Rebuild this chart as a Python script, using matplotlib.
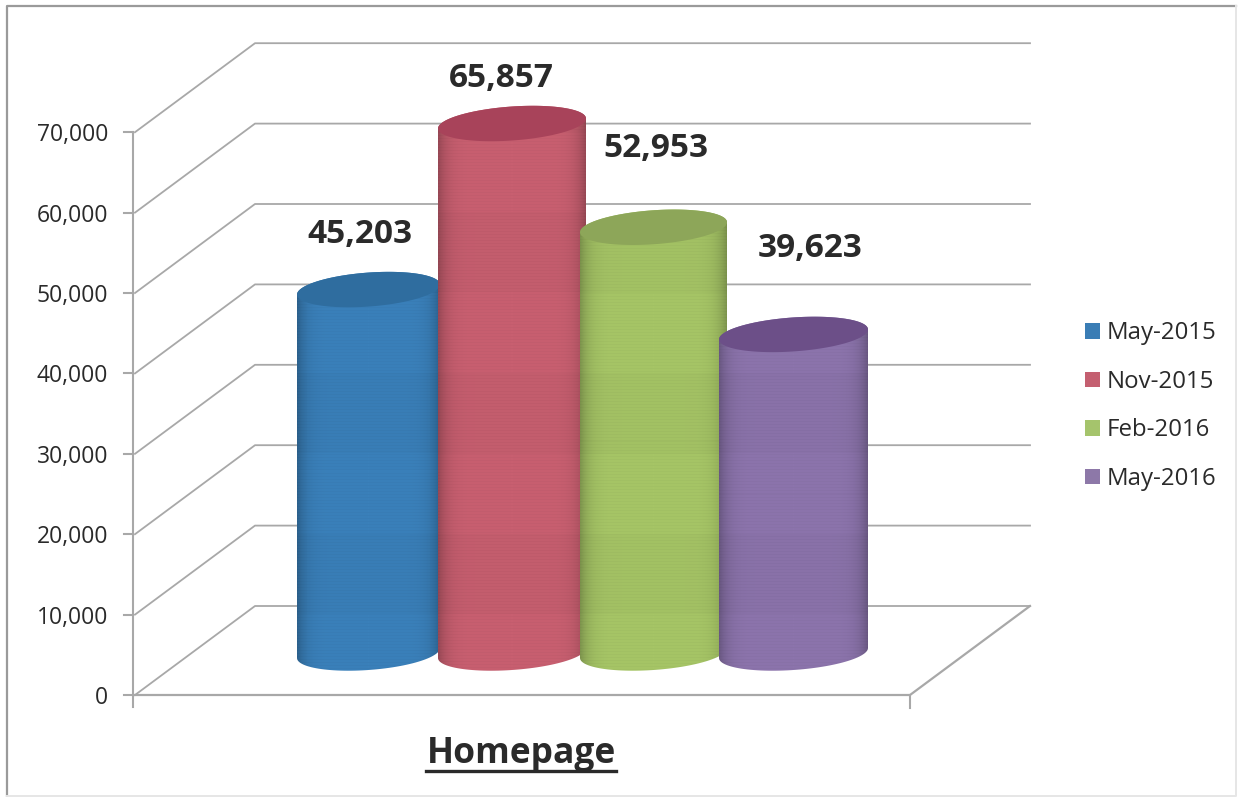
import numpy as np
import matplotlib
matplotlib.use('Agg')
import matplotlib.pyplot as plt
from matplotlib.patches import Patch, PathPatch
from matplotlib.path import Path

plt.rcParams['font.family'] = ['Open Sans', 'DejaVu Sans']

# data
periods = ['May-2015', 'Nov-2015', 'Feb-2016', 'May-2016']
values = [45203, 65857, 52953, 39623]
y_ticks = [0, 10000, 20000, 30000, 40000, 50000, 60000, 70000]
category = 'Homepage'

# colours
side_cols = ['#3a80ba', '#c85f70', '#a6c566', '#8c74ac']
top_cols = ['#2f6d9f', '#a8435a', '#8da659', '#6c4f88']
legend_cols = ['#3a7db5', '#c45f70', '#a5c46c', '#8d78a8']
grid_col = '#a8a8a8'
text_col = '#2a2a2a'

# layout, in picture pixels
W, H = 1238, 797
PX_PER_UNIT = 8.04 / 1000
Y0 = 695          # pixel row of value 0 on the front plane
X_FRONT, X_END = 135, 910
DEPTH_X, DEPTH_Y = 120, 89
BASE_ROW = 653    # cylinder base centre
bar_left = [297, 438, 580, 719]
bar_right = [440, 586, 727, 868]
label_xy = [(360, 234), (501, 78), (656, 148), (810, 248)]


def val(px):
    # pixel height -> chart units
    return px / PX_PER_UNIT


fig = plt.figure(figsize=(W / 100, H / 100), dpi=100)
ax = fig.add_axes([0, 0, 1, 1])
ax.axis('off')
ylim = ((Y0 - H) / PX_PER_UNIT, Y0 / PX_PER_UNIT)

# outer frame: top and left are strong, the other two nearly gone in the scan
ax.plot([7, 7, 1236], [val(Y0 - 796), val(Y0 - 6), val(Y0 - 6)],
        color='#9a9a9a', lw=1.6, zorder=1)
ax.plot([1236, 1236, 7], [val(Y0 - 6), val(Y0 - 796), val(Y0 - 796)],
        color='#e6e6e6', lw=1.4, zorder=1)

# walls
dy = val(DEPTH_Y)
for t in y_ticks:
    ax.plot([X_FRONT, X_FRONT + DEPTH_X, X_END + DEPTH_X],
            [t, t + dy, t + dy], color=grid_col, lw=1.3, zorder=1)
    ax.plot([124, 133], [t, t], color=grid_col, lw=1.5, zorder=1)
    ax.text(108, t - val(3), f'{t:,}', ha='right', va='center', fontsize=16.5, color=text_col)
ax.plot([X_FRONT, X_END, X_END + DEPTH_X], [0, 0, dy], color=grid_col, lw=1.6, zorder=1)
ax.plot([133, 133], [val(Y0 - 707), y_ticks[-1]], color=grid_col, lw=1.5, zorder=1)
ax.plot([X_END, X_END], [0, val(Y0 - 708)], color=grid_col, lw=1.5, zorder=1)

# cylinders
base = val(Y0 - BASE_ROW)
b_half = val(17)
tilt = val(5)
t_arc = np.linspace(0, np.pi, 60)
shade_x = np.linspace(-1, 1, 150)
shade = 1.0 - 0.24 * np.abs(shade_x) ** 8
band_step = val(80.4)

for i, v in enumerate(values):
    z = 3 + i
    x0, x1 = bar_left[i], bar_right[i]
    xc, a = (x0 + x1) / 2, (x1 - x0) / 2
    top = v + base

    # outline: lower edge of the base ellipse, then straight up and over
    low_x = xc - a * np.cos(t_arc)
    low_y = base - b_half * np.sin(t_arc) - tilt * np.cos(t_arc)
    up_x = xc + a * np.cos(t_arc)
    up_y = top + b_half * np.sin(t_arc) + tilt * np.cos(t_arc)
    pts = np.column_stack([np.r_[low_x, up_x], np.r_[low_y, up_y]])
    body = PathPatch(Path(np.vstack([pts, pts[0]])), fc='none', ec='none', zorder=z)
    ax.add_patch(body)

    # side shading with the faint bands and scan lines of the source
    n_rows = int((v + val(60)) * PX_PER_UNIT)
    rows = np.linspace(top + val(30), base - val(30), n_rows)
    band = 1 - 0.02 * (np.floor(rows / band_step) % 2)
    band = band - 0.025 * (np.arange(n_rows) % 3 == 0)
    rgb = np.array(matplotlib.colors.to_rgb(side_cols[i]))
    img = np.clip(band[:, None, None] * shade[None, :, None] * rgb, 0, 1)
    im = ax.imshow(img, extent=[x0, x1, rows[-1], rows[0]], aspect='auto',
                   interpolation='nearest', zorder=z)
    im.set_clip_path(body)

    # top face
    tt = np.linspace(0, 2 * np.pi, 120)
    face = np.column_stack([xc + a * np.cos(tt),
                            top + b_half * np.sin(tt) + tilt * np.cos(tt)])
    ax.fill(face[:, 0], face[:, 1], color=top_cols[i], lw=0, zorder=z + 0.5)

    # value label
    lx, ly = label_xy[i]
    ax.text(lx, val(Y0 - ly), f'{v:,}', ha='center', va='center', fontsize=24,
            fontweight='bold', color=text_col, zorder=10)

# category label, underlined
ax.text(521, val(Y0 - 754), category, ha='center', va='center', fontsize=25.5,
        fontweight='bold', color=text_col)
ax.plot([426, 616], [val(Y0 - 771)] * 2, color=text_col, lw=2.4)

handles = [Patch(fc=c, ec='none', label=p) for c, p in zip(legend_cols, periods)]
ax.legend(handles=handles, loc='center left', bbox_to_anchor=(1085 / W, 1 - 406 / H),
          bbox_transform=fig.transFigure, frameon=False, fontsize=17.3,
          handlelength=0.62, handleheight=0.62, handletextpad=0.3,
          labelspacing=1.02, borderpad=0, borderaxespad=0, labelcolor=text_col)

ax.set_xlim(0, W)
ax.set_ylim(*ylim)
fig.savefig('out.png', dpi=100, facecolor='white')
